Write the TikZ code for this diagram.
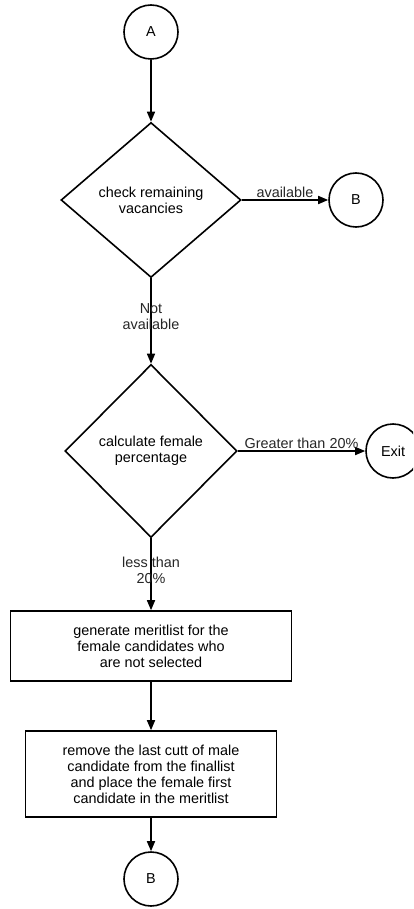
\documentclass[tikz,border=0pt]{standalone}
\usepackage{fontspec}
\setmainfont{Liberation Sans}
\usetikzlibrary{shapes.geometric, arrows.meta}
\tikzstyle{connector} = [
    circle,
    minimum size=54pt,
    inner sep=0pt,
    line width=1.6pt,
    draw=black
]
\tikzstyle{decision} = [
    diamond,
    inner sep=0pt,
    align=center,
    line width=1.6pt,
    draw=black
]
\tikzstyle{process} = [
    rectangle,
    align=center,
    inner sep=0pt,
    line width=1.6pt,
    draw=black
]
\tikzstyle{arrow} = [line width=1.6pt, -{Triangle[length=10pt,width=8pt]}]
\tikzstyle{label} = [align=center, inner sep=2pt, text=black!85]

\begin{document}
\begin{tikzpicture}[x=1pt, y=-1pt, node distance=100pt,
    every node/.style={font=\fontsize{14.4}{16}\selectfont}]

\useasboundingbox (0,0) rectangle (413,909);
\clip (0,0) rectangle (413,909);

\node (a) [connector] at (151,32) {A};

\node (vacancy) [decision, minimum width=180pt, minimum height=155pt,
    below of=a, yshift=-68pt]
{check remaining\\vacancies};

\node (b1) [connector, right of=vacancy, xshift=105pt] {B};

\node (female) [decision, minimum width=172pt, minimum height=173pt,
    below of=vacancy, yshift=-151pt]
{calculate female\\percentage};

\node (exit) [connector, right of=female, xshift=142pt] {Exit};

\node (merit) [process, minimum width=281pt, minimum height=70pt,
    below of=female, yshift=-95pt]
{generate meritlist for the\\female candidates who\\are not selected};

\node (remove) [process, minimum width=251pt, minimum height=86pt,
    below of=merit, yshift=-28pt]
{remove the last cutt of male\\candidate from the finallist\\and place the female first\\candidate in the meritlist};

\node (b2) [connector, below of=remove, yshift=-5pt] {B};

\draw [arrow] (a) -- (vacancy);
\draw [arrow] (vacancy) -- node[label, above]{available} (b1);
\draw [arrow] (vacancy) -- node[label, pos=0.45]{Not\\available} (female);
\draw [arrow] (female) -- node[label, above]{Greater than 20\%} (exit);
\draw [arrow] (female) -- node[label, pos=0.45]{less than\\20\%} (merit);
\draw [arrow] (merit) -- (remove);
\draw [arrow] (remove) -- (b2);

\end{tikzpicture}
\end{document}
